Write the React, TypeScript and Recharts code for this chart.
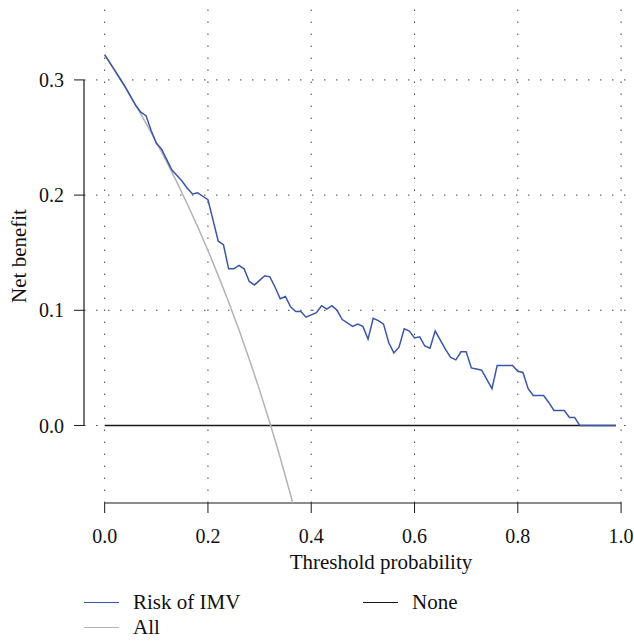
import { Line, LineChart, ReferenceLine, XAxis, YAxis } from "recharts";

const FONT = '"Liberation Serif", "DejaVu Serif", serif';

// model curve, read at thresholds 0.00 .. 0.99 (step 0.01)
const riskValues = [
  0.322, 0.315, 0.308, 0.301, 0.294, 0.286, 0.278, 0.272, 0.269, 0.256,
  0.245, 0.24, 0.231, 0.222, 0.217, 0.212, 0.206, 0.201, 0.202, 0.199,
  0.196, 0.178, 0.16, 0.157, 0.136, 0.136, 0.139, 0.136, 0.125, 0.122,
  0.126, 0.13, 0.129, 0.12, 0.11, 0.112, 0.103, 0.099, 0.099, 0.094,
  0.096, 0.098, 0.104, 0.101, 0.104, 0.1, 0.092, 0.089, 0.086, 0.088,
  0.086, 0.075, 0.093, 0.091, 0.088, 0.072, 0.063, 0.068, 0.084, 0.082,
  0.076, 0.077, 0.069, 0.067, 0.082, 0.074, 0.066, 0.059, 0.057, 0.064,
  0.064, 0.05, 0.049, 0.048, 0.04, 0.032, 0.052, 0.052, 0.052, 0.052,
  0.047, 0.046, 0.032, 0.026, 0.026, 0.026, 0.02, 0.013, 0.013, 0.013,
  0.007, 0.007, 0, 0, 0, 0, 0, 0, 0, 0,
];

// treat-all curve
const allThresholds = [
  0, 0.02, 0.04, 0.06, 0.08, 0.1, 0.12, 0.14, 0.16, 0.18,
  0.2, 0.22, 0.24, 0.26, 0.28, 0.3, 0.32, 0.34, 0.36, 0.38,
];
const allValues = [
  0.3215, 0.3077, 0.2932, 0.2782, 0.2625, 0.2461, 0.229, 0.211, 0.1923, 0.1726,
  0.1519, 0.1301, 0.1072, 0.0831, 0.0576, 0.0307, 0.0022, -0.028, -0.0602, -0.0944,
];

const noneValue = 0;

const xTicks = [0, 0.2, 0.4, 0.6, 0.8, 1];
const yTicks = [0, 0.1, 0.2, 0.3];

const BLUE = "#3a56a8";
const GREY = "#b3b3b3";
const BLACK = "#1a1a1a";

const rows = riskValues.map((v, i) => ({ t: i / 100, risk: v, none: noneValue }));
const allRows = allThresholds.map((t, i) => ({ t, all: allValues[i] }));

const tickStyle = { fontSize: 20, fill: "#111", fontFamily: FONT };

function XTitle() {
  return (
    <text x={381} y={569} textAnchor="middle" fontSize={21} fill="#111" fontFamily={FONT}>
      Threshold probability
    </text>
  );
}

function YTitle() {
  return (
    <text
      x={19}
      y={256}
      textAnchor="middle"
      fontSize={21}
      fill="#111"
      fontFamily={FONT}
      transform="rotate(-90 19 256)"
      dominantBaseline="central"
    >
      Net benefit
    </text>
  );
}

function LegendItem({ color, label }: { color: string; label: string }) {
  return (
    <div style={{ display: "flex", alignItems: "center", height: 25 }}>
      <span style={{ display: "inline-block", width: 35, height: 0, borderTop: `1.5px solid ${color}`, marginRight: 14 }} />
      <span>{label}</span>
    </div>
  );
}

export default function App() {
  return (
    <div
      style={{
        position: "absolute",
        left: 0,
        top: 0,
        width: 634,
        height: 643,
        background: "#fff",
        fontFamily: FONT,
        overflow: "hidden",
      }}
    >
      <LineChart width={634} height={643} data={rows} margin={{ top: 4, right: 0, bottom: 80, left: 0 }}>
        <XAxis
          dataKey="t"
          type="number"
          domain={[-0.04, 1.025]}
          ticks={xTicks}
          allowDataOverflow
          height={60}
          tick={tickStyle}
          tickFormatter={(v: number) => v.toFixed(1)}
          tickSize={10}
          tickMargin={16}
          tickLine={{ stroke: BLACK }}
          axisLine={false}
          label={{ content: () => <XTitle /> }}
        />
        <YAxis
          type="number"
          domain={[-0.0673, 0.3659]}
          ticks={yTicks}
          allowDataOverflow
          width={84}
          tick={tickStyle}
          tickFormatter={(v: number) => v.toFixed(1)}
          tickSize={10}
          tickMargin={10}
          tickLine={{ stroke: BLACK }}
          axisLine={false}
          label={{ content: () => <YTitle /> }}
        />
        {/* dotted grid at the tick values */}
        {xTicks.map((t) => (
          <ReferenceLine key={`gx${t}`} x={t} stroke="#444" strokeDasharray="1.5 10.5" />
        ))}
        {yTicks.map((t) => (
          <ReferenceLine key={`gy${t}`} y={t} stroke="#444" strokeDasharray="1.5 10.5" />
        ))}
        <ReferenceLine
          segment={[{ x: 0, y: -0.0673 }, { x: 1, y: -0.0673 }]}
          stroke={BLACK}
          strokeWidth={1.2}
          ifOverflow="visible"
        />
        <ReferenceLine
          segment={[{ x: -0.04, y: 0 }, { x: -0.04, y: 0.3 }]}
          stroke={BLACK}
          strokeWidth={1.2}
          ifOverflow="visible"
        />
        <Line
          dataKey="none"
          stroke={BLACK}
          strokeWidth={1.5}
          dot={false}
          activeDot={false}
          isAnimationActive={false}
        />
        <Line
          data={allRows}
          dataKey="all"
          stroke={GREY}
          strokeWidth={1.5}
          dot={false}
          activeDot={false}
          isAnimationActive={false}
        />
        <Line
          dataKey="risk"
          stroke={BLUE}
          strokeWidth={1.5}
          dot={false}
          activeDot={false}
          isAnimationActive={false}
        />
      </LineChart>
      <div style={{ position: "absolute", left: 84, top: 590, fontSize: 21, color: "#111" }}>
        <LegendItem color={BLUE} label="Risk of IMV" />
        <LegendItem color={GREY} label="All" />
      </div>
      <div style={{ position: "absolute", left: 363, top: 590, fontSize: 21, color: "#111" }}>
        <LegendItem color={BLACK} label="None" />
      </div>
    </div>
  );
}
